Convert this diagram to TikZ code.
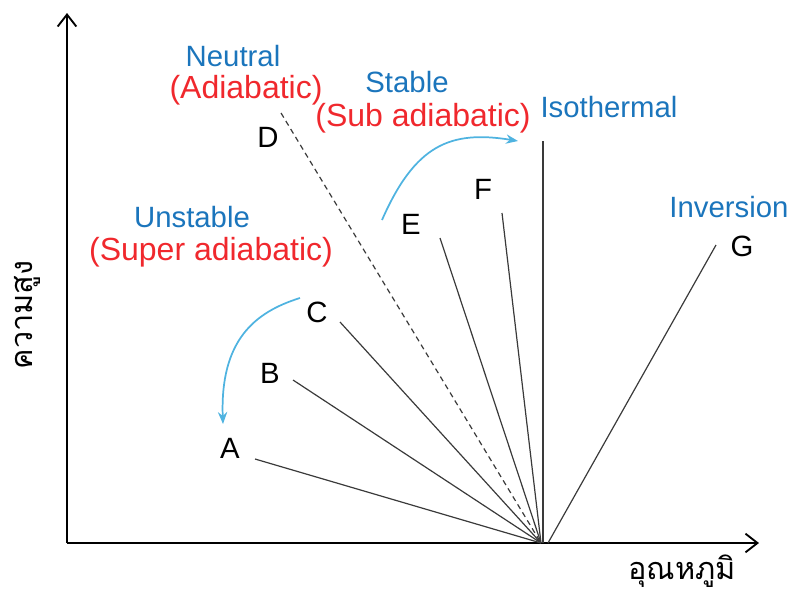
\documentclass[tikz,border=0pt]{standalone}
\usepackage{fontspec}
\setmainfont{Liberation Sans}
\newfontfamily\thaifont[Script=Thai]{Loma}
\usetikzlibrary{arrows.meta}
\definecolor{lblue}{HTML}{1B75BC}
\definecolor{lred}{HTML}{F0282D}
\definecolor{arrblue}{HTML}{4FB3E0}
\definecolor{lgray}{HTML}{3A3A3A}
\tikzset{
  axis/.style={line width=1.6pt,-{Straight Barb[length=9pt,width=14pt,line width=1.4pt]}},
  prof/.style={lgray,line width=0.9pt},
  letter/.style={font=\fontsize{22}{24}\selectfont,text=black,inner sep=0pt},
  stab/.style={font=\fontsize{22}{24}\selectfont,text=lblue,inner sep=0pt},
  rate/.style={font=\fontsize{24}{26}\selectfont,text=lred,inner sep=0pt},
  curv/.style={arrblue,line width=1.3pt,-{Stealth[length=9pt,width=7pt]}},
  thai/.style={font=\thaifont\fontsize{23}{26}\selectfont,inner sep=0pt}
}
\begin{document}
\begin{tikzpicture}[x=0.75pt,y=-0.75pt]
\useasboundingbox (0,0) rectangle (793,593);
% axes
\coordinate (orig) at (67,543);
\coordinate (ytop) at (67,13);
\coordinate (xend) at (759,543);
\draw[axis] (orig) -- (ytop);
\draw[axis] (orig) -- (xend);
% convergence points
\coordinate (O) at (541,543);
\coordinate (OG) at (548,543);
% line ends
\coordinate (a) at (255,459);
\coordinate (b) at (293,380);
\coordinate (c) at (340,322);
\coordinate (d) at (281,113);
\coordinate (e) at (440,238);
\coordinate (f) at (502,213);
\coordinate (iso) at (543,141);
\coordinate (isoO) at (543,543);
\coordinate (g) at (716,245);
\draw[prof] (a) -- (O);
\draw[prof] (b) -- (O);
\draw[prof] (c) -- (O);
\draw[prof,dashed,dash pattern=on 4pt off 3pt] (d) -- (O);
\draw[prof] (e) -- (O);
\draw[prof] (f) -- (O);
\draw[prof] (iso) -- (isoO);
\draw[prof] (g) -- (OG);
% letters
\node[letter] (A) at (230,448) {A};
\node[letter] (B) at (270,373) {B};
\node[letter] (C) at (317,312) {C};
\node[letter] (D) at (268,137) {D};
\node[letter] (E) at (411,224) {E};
\node[letter] (F) at (483,189) {F};
\node[letter] (G) at (742,246) {G};
% stability labels
\node[stab] (neutral) at (233,56) {Neutral};
\node[rate] (adiab) at (246,90) {(Adiabatic)};
\node[stab] (stable) at (407,82) {Stable};
\node[rate] (subad) at (423,118) {(Sub adiabatic)};
\node[stab] (isoth) at (609,107) {Isothermal};
\node[stab] (unstable) at (192,217) {Unstable};
\node[rate] (superad) at (211,252) {(Super adiabatic)};
\node[stab] (inversion) at (729,207) {Inversion};
% axis labels
\node[thai,rotate=90] (ylab) at (27,315) {ความสูง};
\node[thai] (xlab) at (682,571) {อุณหภูมิ};
% blue curved arrows
\coordinate (u1) at (300,298);
\coordinate (u2) at (223,424);
\draw[curv] (u1) .. controls (255,312) and (220,340) .. (u2);
\coordinate (s1) at (382,220);
\coordinate (s2) at (518,141);
\draw[curv] (s1) .. controls (415,145) and (450,130) .. (s2);
\end{tikzpicture}
\end{document}
